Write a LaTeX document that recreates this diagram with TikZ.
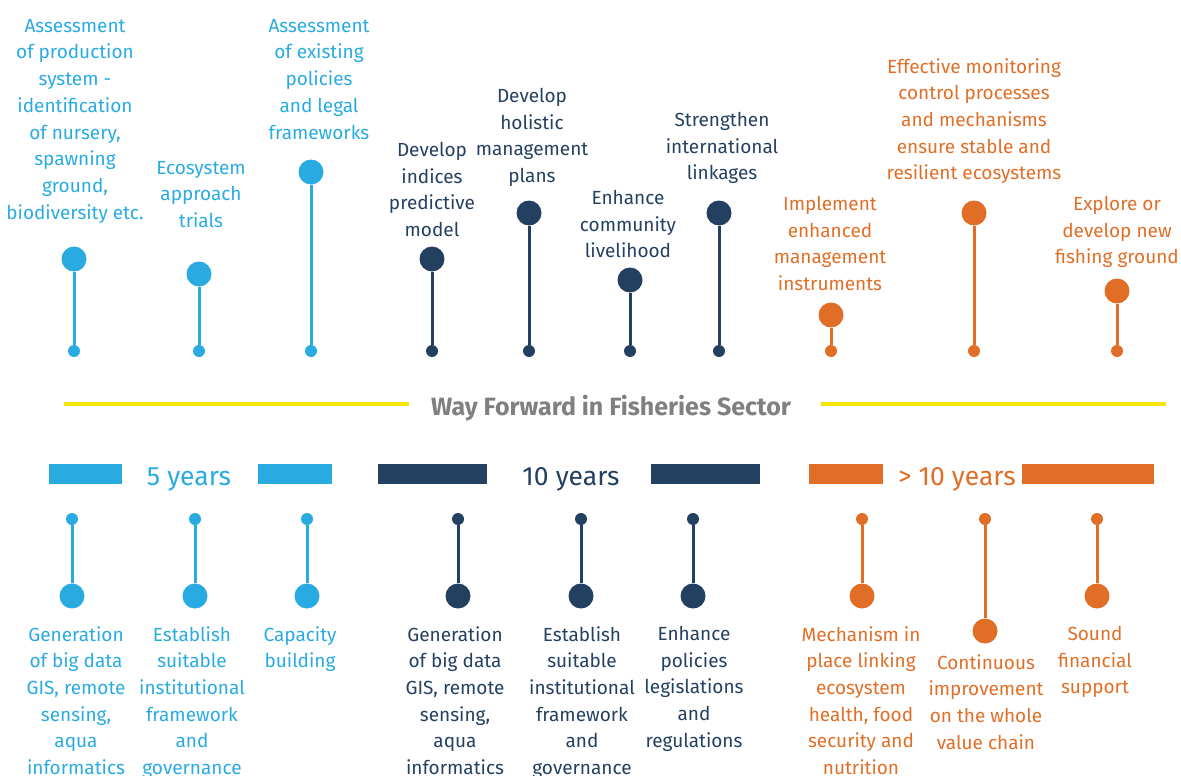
\documentclass[tikz,border=0pt]{standalone}
\usepackage{fontspec}
\setmainfont{Fira Sans}
\usepackage{xcolor}
\definecolor{sky}{HTML}{29ABE2}
\definecolor{navy}{HTML}{244061}
\definecolor{rust}{HTML}{E06E26}
\definecolor{lemon}{HTML}{F5E50A}
\definecolor{slate}{HTML}{808080}
\usetikzlibrary{positioning}

\begin{document}
\begin{tikzpicture}[
  x=1pt, y=-1pt,
  bigdot/.style={circle, inner sep=0pt, minimum size=25pt},
  smalldot/.style={circle, inner sep=0pt, minimum size=12pt},
  stem/.style={line width=3pt},
  lbl/.style={align=center, inner sep=0pt, anchor=north,
              font=\fontsize{19}{26.7}\selectfont},
  bar/.style={inner sep=0pt, minimum height=20pt},
  years/.style={inner sep=0pt, anchor=base, font=\fontsize{26.5}{26.5}\selectfont},
  rule/.style={lemon, line width=4pt}
]
\useasboundingbox (0,0) rectangle (1181,776);

% ---- top row: actions above the axis ----
\node[smalldot, fill=sky] (t1s) at (74,351) {};
\node[bigdot,   fill=sky] (t1)  at (74,259) {};
\node[smalldot, fill=sky] (t2s) at (199,351) {};
\node[bigdot,   fill=sky] (t2)  at (199,274) {};
\node[smalldot, fill=sky] (t3s) at (311,351) {};
\node[bigdot,   fill=sky] (t3)  at (311,172) {};
\node[smalldot, fill=navy] (t4s) at (432,351) {};
\node[bigdot,   fill=navy] (t4)  at (432,259) {};
\node[smalldot, fill=navy] (t5s) at (529,351) {};
\node[bigdot,   fill=navy] (t5)  at (529,213) {};
\node[smalldot, fill=navy] (t6s) at (630,351) {};
\node[bigdot,   fill=navy] (t6)  at (630,280) {};
\node[smalldot, fill=navy] (t7s) at (719,351) {};
\node[bigdot,   fill=navy] (t7)  at (719,213) {};
\node[smalldot, fill=rust] (t8s) at (831,351) {};
\node[bigdot,   fill=rust] (t8)  at (831,315) {};
\node[smalldot, fill=rust] (t9s) at (974,351) {};
\node[bigdot,   fill=rust] (t9)  at (974,213) {};
\node[smalldot, fill=rust] (t10s) at (1117,351) {};
\node[bigdot,   fill=rust] (t10)  at (1117,291) {};

\draw[stem, sky]  (t1s) -- (t1);
\draw[stem, sky]  (t2s) -- (t2);
\draw[stem, sky]  (t3s) -- (t3);
\draw[stem, navy] (t4s) -- (t4);
\draw[stem, navy] (t5s) -- (t5);
\draw[stem, navy] (t6s) -- (t6);
\draw[stem, navy] (t7s) -- (t7);
\draw[stem, rust] (t8s) -- (t8);
\draw[stem, rust] (t9s) -- (t9);
\draw[stem, rust] (t10s) -- (t10);

\node[lbl, text=sky] (t1txt) at (75,19) {Assessment\\of production\\system -\\identification\\of nursery,\\spawning\\ground,\\biodiversity etc.};
\node[lbl, text=sky] (t2txt) at (201,161) {Ecosystem\\approach\\trials};
\node[lbl, text=sky] (t3txt) at (319,19) {Assessment\\of existing\\policies\\and legal\\frameworks};
\node[lbl, text=navy] (t4txt) at (432,142) {Develop\\indices\\predictive\\model};
\node[lbl, text=navy] (t5txt) at (532,88) {Develop\\holistic\\management\\plans};
\node[lbl, text=navy] (t6txt) at (628,190) {Enhance\\community\\livelihood};
\node[lbl, text=navy] (t7txt) at (722,112) {Strengthen\\international\\linkages};
\node[lbl, text=rust] (t8txt) at (830,196) {Implement\\enhanced\\management\\instruments};
\node[lbl, text=rust] (t9txt) at (974,58) {Effective monitoring\\control processes\\and mechanisms\\ensure stable and\\resilient ecosystems};
\node[lbl, text=rust] (t10txt) at (1117,196) {Explore or\\develop new\\fishing ground};

% ---- axis title ----
\node[inner sep=0pt, anchor=base, text=slate,
      font=\fontsize{25}{25}\selectfont\bfseries] (title) at (611,415)
  {Way Forward in Fisheries Sector};
\coordinate (rule1a) at (64,404);
\coordinate (rule1b) at (409,404);
\coordinate (rule2a) at (821,404);
\coordinate (rule2b) at (1166,404);
\draw[rule] (rule1a) -- (rule1b);
\draw[rule] (rule2a) -- (rule2b);

% ---- time horizons ----
\node[bar, fill=sky,  minimum width=73pt]  (bar1) at (85.5,474) {};
\node[years, text=sky] (yr5) at (189,485) {5 years};
\node[bar, fill=sky,  minimum width=74pt]  (bar2) at (295,474) {};
\node[bar, fill=navy, minimum width=109pt] (bar3) at (432.5,474) {};
\node[years, text=navy] (yr10) at (571,485) {10 years};
\node[bar, fill=navy, minimum width=109pt] (bar4) at (705.5,474) {};
\node[bar, fill=rust, minimum width=74pt]  (bar5) at (846,474) {};
\node[years, text=rust] (yr10p) at (957,485) {> 10 years};
\node[bar, fill=rust, minimum width=132pt] (bar6) at (1088,474) {};

% ---- bottom row: enablers below the axis ----
\node[smalldot, fill=sky] (b1s) at (72,519) {};
\node[bigdot,   fill=sky] (b1)  at (72,596) {};
\node[smalldot, fill=sky] (b2s) at (195,519) {};
\node[bigdot,   fill=sky] (b2)  at (195,596) {};
\node[smalldot, fill=sky] (b3s) at (307,519) {};
\node[bigdot,   fill=sky] (b3)  at (307,596) {};
\node[smalldot, fill=navy] (b4s) at (458,519) {};
\node[bigdot,   fill=navy] (b4)  at (458,596) {};
\node[smalldot, fill=navy] (b5s) at (581,519) {};
\node[bigdot,   fill=navy] (b5)  at (581,596) {};
\node[smalldot, fill=navy] (b6s) at (693,519) {};
\node[bigdot,   fill=navy] (b6)  at (693,596) {};
\node[smalldot, fill=rust] (b7s) at (862,519) {};
\node[bigdot,   fill=rust] (b7)  at (862,596) {};
\node[smalldot, fill=rust] (b8s) at (985,519) {};
\node[bigdot,   fill=rust] (b8)  at (985,631) {};
\node[smalldot, fill=rust] (b9s) at (1097,519) {};
\node[bigdot,   fill=rust] (b9)  at (1097,596) {};

\draw[stem, sky]  (b1s) -- (b1);
\draw[stem, sky]  (b2s) -- (b2);
\draw[stem, sky]  (b3s) -- (b3);
\draw[stem, navy] (b4s) -- (b4);
\draw[stem, navy] (b5s) -- (b5);
\draw[stem, navy] (b6s) -- (b6);
\draw[stem, rust] (b7s) -- (b7);
\draw[stem, rust] (b8s) -- (b8);
\draw[stem, rust] (b9s) -- (b9);

\node[lbl, text=sky] (b1txt) at (76,626) {Generation\\of big data\\GIS, remote\\sensing,\\aqua\\informatics};
\node[lbl, text=sky] (b2txt) at (192,626) {Establish\\suitable\\institutional\\framework\\and\\governance};
\node[lbl, text=sky] (b3txt) at (300,626) {Capacity\\building};
\node[lbl, text=navy] (b4txt) at (455,626) {Generation\\of big data\\GIS, remote\\sensing,\\aqua\\informatics};
\node[lbl, text=navy] (b5txt) at (582,626) {Establish\\suitable\\institutional\\framework\\and\\governance};
\node[lbl, text=navy] (b6txt) at (694,626) {Enhance\\policies\\legislations\\and\\regulations};
\node[lbl, text=rust] (b7txt) at (861,626) {Mechanism in\\place linking\\ecosystem\\health, food\\security and\\nutrition};
\node[lbl, text=rust] (b8txt) at (986,654) {Continuous\\improvement\\on the whole\\value chain};
\node[lbl, text=rust] (b9txt) at (1095,626) {Sound\\financial\\support};

\end{tikzpicture}
\end{document}
